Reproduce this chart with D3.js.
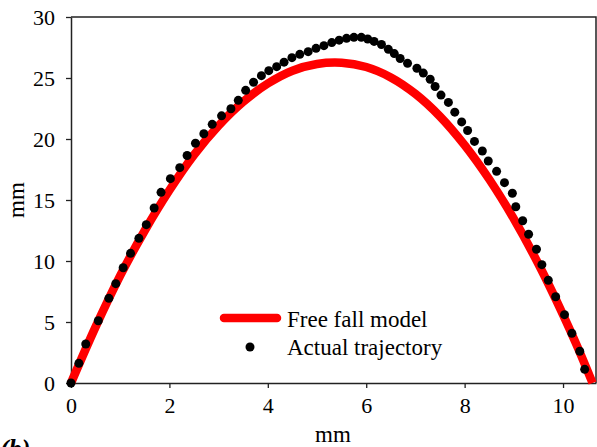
<!DOCTYPE html>
<html>
<head>
<meta charset="utf-8">
<script src="https://cdn.jsdelivr.net/npm/d3@7"></script>
<style>
  html, body { margin: 0; padding: 0; background: #fff; }
  svg { display: block; }
  text { font-family: "Liberation Serif", "Times New Roman", serif; fill: #000; }
</style>
</head>
<body>
<svg id="chart" width="597" height="447"></svg>
<script>
// ---- data ----
const xTicks = [0, 2, 4, 6, 8, 10];
const yTicks = [0, 5, 10, 15, 20, 25, 30];

// Free fall model
const modelX = [0, 0.5, 1, 1.5, 2, 2.5, 3, 3.5, 4, 4.5, 5, 5.5, 6, 6.5, 7, 7.5, 8, 8.5, 9, 9.5, 10, 10.3, 10.6];
const modelY = [0, 4.6, 8.8, 12.5, 15.8, 18.7, 21.1, 23.05, 24.55, 25.6, 26.15, 26.25, 25.9, 25.05, 23.7, 21.85, 19.5, 16.7, 13.45, 9.75, 5.6, 2.9, 0];

// Actual trajectory
const dotX = [0, 0.16, 0.30, 0.555, 0.77, 0.91, 1.06, 1.21, 1.38, 1.53, 1.69, 1.83, 2.02, 2.21, 2.36,
  2.53, 2.70, 2.87, 3.06, 3.25, 3.40, 3.55, 3.71, 3.87, 4.02, 4.18, 4.33, 4.49, 4.65, 4.82, 4.98,
  5.14, 5.30, 5.45, 5.60, 5.75, 5.90, 6.03, 6.16, 6.31, 6.45, 6.57, 6.69, 6.84, 7.03, 7.16, 7.30,
  7.40, 7.52, 7.67, 7.80, 7.94, 8.06, 8.20, 8.36, 8.48, 8.65, 8.81, 8.97, 9.04, 9.18, 9.30, 9.46,
  9.57, 9.70, 9.85, 10.03, 10.18, 10.34, 10.44];
const dotY = [0, 1.61, 3.2, 5.1, 6.94, 8.14, 9.45, 10.63, 11.86, 12.98, 14.34, 15.63, 16.75, 17.65, 18.65,
  19.65, 20.43, 21.2, 21.9, 22.48, 23.17, 23.99, 24.65, 25.19, 25.6, 25.93, 26.3, 26.67, 26.94, 27.16, 27.43,
  27.65, 27.9, 28.1, 28.25, 28.33, 28.33, 28.2, 28.0, 27.75, 27.35, 27.0, 26.6, 26.2, 25.8, 25.4, 24.9,
  24.3, 23.6, 23.0, 22.2, 21.4, 20.7, 19.8, 19.02, 18.2, 17.35, 16.42, 15.55, 14.45, 13.3, 12.19, 10.96,
  9.7, 8.42, 7.07, 5.6, 4.07, 2.6, 1.12];

const legendLabels = ["Free fall model", "Actual trajectory"];

// ---- layout ----
const svg = d3.select("#chart");
const mLeft = 71, mRight = 596, mTop = 17, mBottom = 383;

const x = d3.scaleLinear().domain([0, 10.67]).range([mLeft, mRight]);
const y = d3.scaleLinear().domain([0, 30]).range([mBottom, mTop]);

// frame (top and right)
svg.append("path")
  .attr("d", `M${mLeft},${mTop}H${mRight}V${mBottom}`)
  .attr("fill", "none").attr("stroke", "#222").attr("stroke-width", 1.5);

// axes
const xAxis = svg.append("g").attr("transform", `translate(0,${mBottom})`)
  .call(d3.axisBottom(x).tickValues(xTicks).tickSize(5).tickSizeOuter(0).tickPadding(9).tickFormat(d3.format("d")));
const yAxis = svg.append("g").attr("transform", `translate(${mLeft},0)`)
  .call(d3.axisLeft(y).tickValues(yTicks).tickSize(5).tickSizeOuter(0).tickPadding(11).tickFormat(d3.format("d")));

[xAxis, yAxis].forEach(g => {
  g.select(".domain").attr("stroke", "#222").attr("stroke-width", 1.5);
  g.selectAll(".tick line").attr("stroke", "#222").attr("stroke-width", 1.3);
  g.selectAll(".tick text")
    .attr("font-family", "Liberation Serif, Times New Roman, serif")
    .attr("font-size", 22).attr("fill", "#000");
});

// model line
const modelData = modelX.map((d, i) => [d, modelY[i]]);
svg.append("path")
  .datum(modelData)
  .attr("d", d3.line().x(d => x(d[0])).y(d => y(d[1])).curve(d3.curveCatmullRom))
  .attr("fill", "none").attr("stroke", "#ff0000").attr("stroke-width", 8.5)
  .attr("stroke-linecap", "butt");

// dots
const dotData = dotX.map((d, i) => [d, dotY[i]]);
svg.append("g").selectAll("circle").data(dotData).enter().append("circle")
  .attr("cx", d => x(d[0])).attr("cy", d => y(d[1])).attr("r", 4.5).attr("fill", "#000");

// axis titles
svg.append("text").attr("x", 333).attr("y", 442).attr("text-anchor", "middle")
  .attr("font-size", 23).text("mm");
svg.append("text").attr("transform", "translate(24,200) rotate(-90)").attr("text-anchor", "middle")
  .attr("font-size", 23).text("mm");

// panel label (cropped at the bottom edge as in the reference)
svg.append("text").attr("x", 0).attr("y", 457)
  .attr("font-size", 26).attr("font-weight", "bold").attr("font-style", "italic").text("(b)");

// legend
const lg = svg.append("g");
lg.append("line").attr("x1", 224).attr("x2", 277).attr("y1", 318).attr("y2", 318)
  .attr("stroke", "#ff0000").attr("stroke-width", 8.5).attr("stroke-linecap", "round");
lg.append("circle").attr("cx", 250).attr("cy", 347).attr("r", 4.5).attr("fill", "#000");
lg.append("text").attr("x", 287).attr("y", 327).attr("font-size", 23).text(legendLabels[0]);
lg.append("text").attr("x", 287).attr("y", 355).attr("font-size", 23).text(legendLabels[1]);
</script>
</body>
</html>
